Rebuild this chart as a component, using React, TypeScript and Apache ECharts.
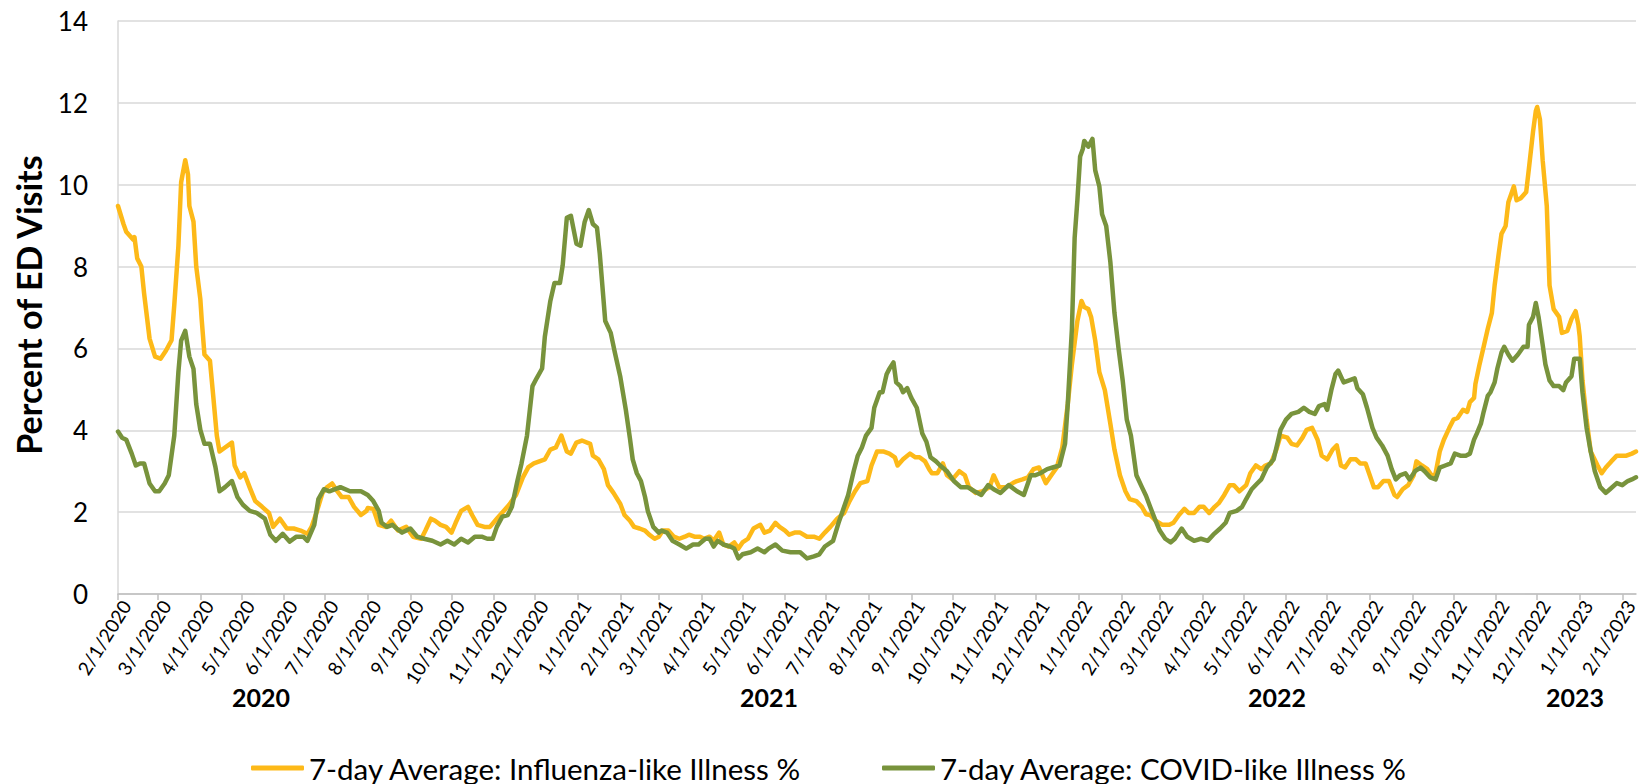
import React, { useEffect, useRef } from "react";
import * as echarts from "echarts";

// ---- Data (month/day, percent) ----
const ILI_2020: [string, number][] = [
  ["2/1", 9.48], ["2/5", 9.04], ["2/7", 8.85], ["2/12", 8.66], ["2/13", 8.72], ["2/15", 8.2], ["2/18", 8.0],
  ["2/20", 7.35], ["2/24", 6.24], ["2/28", 5.8], ["3/3", 5.75], ["3/7", 5.95], ["3/11", 6.2], ["3/13", 7.06],
  ["3/16", 8.5], ["3/18", 10.06], ["3/21", 10.6], ["3/23", 10.25], ["3/24", 9.48], ["3/27", 9.1], ["3/29", 8.0],
  ["4/1", 7.2], ["4/2", 6.7], ["4/4", 5.85], ["4/8", 5.7], ["4/10", 4.98], ["4/13", 3.87], ["4/15", 3.48],
  ["4/19", 3.58], ["4/24", 3.7], ["4/26", 3.14], ["4/30", 2.85], ["5/3", 2.95], ["5/7", 2.6], ["5/11", 2.27],
  ["5/16", 2.13], ["5/21", 1.98], ["5/24", 1.64], ["5/29", 1.84], ["6/3", 1.6], ["6/8", 1.6], ["6/13", 1.55],
  ["6/18", 1.47], ["6/21", 1.64], ["6/25", 2.03], ["6/29", 2.47], ["7/2", 2.6], ["7/6", 2.7], ["7/10", 2.5],
  ["7/13", 2.37], ["7/18", 2.37], ["7/22", 2.13], ["7/27", 1.93], ["7/31", 2.03], ["8/1", 2.1], ["8/5", 2.08],
  ["8/9", 1.69], ["8/14", 1.64], ["8/18", 1.79], ["8/23", 1.55], ["8/29", 1.64], ["9/3", 1.4], ["9/9", 1.35],
  ["9/12", 1.55], ["9/16", 1.84], ["9/19", 1.79], ["9/23", 1.69], ["9/27", 1.64], ["10/1", 1.5], ["10/4", 1.74],
  ["10/8", 2.03], ["10/13", 2.13], ["10/16", 1.93], ["10/20", 1.69], ["10/25", 1.64], ["10/29", 1.64],
  ["11/3", 1.84], ["11/8", 2.03], ["11/12", 2.18], ["11/17", 2.42], ["11/22", 2.85], ["11/26", 3.1],
  ["11/30", 3.19], ["12/4", 3.24], ["12/8", 3.29], ["12/12", 3.53], ["12/16", 3.58], ["12/20", 3.87],
  ["12/24", 3.48], ["12/27", 3.43], ["12/31", 3.7],
];
const ILI_2021: [string, number][] = [
  ["1/4", 3.75], ["1/10", 3.67], ["1/12", 3.38], ["1/16", 3.29], ["1/20", 3.05], ["1/23", 2.66], ["1/27", 2.47],
  ["2/1", 2.2], ["2/4", 1.93], ["2/8", 1.79], ["2/11", 1.64], ["2/15", 1.6], ["2/19", 1.55], ["2/22", 1.45],
  ["2/26", 1.35], ["3/1", 1.4], ["3/4", 1.55], ["3/8", 1.55], ["3/12", 1.4], ["3/16", 1.35], ["3/20", 1.4],
  ["3/23", 1.45], ["3/27", 1.4], ["3/31", 1.4], ["4/3", 1.35], ["4/7", 1.4], ["4/10", 1.3], ["4/14", 1.5],
  ["4/17", 1.21], ["4/21", 1.16], ["4/25", 1.26], ["4/28", 1.11], ["5/1", 1.26], ["5/5", 1.35], ["5/9", 1.6],
  ["5/14", 1.69], ["5/17", 1.5], ["5/21", 1.55], ["5/25", 1.74], ["5/28", 1.64], ["6/1", 1.55], ["6/4", 1.45],
  ["6/8", 1.5], ["6/12", 1.5], ["6/17", 1.4], ["6/22", 1.4], ["6/26", 1.35], ["6/30", 1.5], ["7/4", 1.64],
  ["7/9", 1.84], ["7/14", 1.98], ["7/18", 2.27], ["7/22", 2.51], ["7/26", 2.71], ["7/31", 2.76], ["8/3", 3.14],
  ["8/7", 3.48], ["8/12", 3.48], ["8/16", 3.43], ["8/20", 3.34], ["8/22", 3.14], ["8/26", 3.29], ["8/31", 3.43],
  ["9/4", 3.34], ["9/7", 3.34], ["9/11", 3.24], ["9/14", 3.05], ["9/16", 2.95], ["9/20", 2.95], ["9/24", 3.19],
  ["9/27", 2.9], ["10/1", 2.8], ["10/6", 3.0], ["10/10", 2.9], ["10/13", 2.61], ["10/18", 2.47], ["10/23", 2.51],
  ["10/28", 2.61], ["10/31", 2.9], ["11/4", 2.61], ["11/9", 2.61], ["11/14", 2.71], ["11/17", 2.76],
  ["11/21", 2.8], ["11/25", 2.85], ["11/29", 3.05], ["12/3", 3.09], ["12/8", 2.71], ["12/12", 2.9],
  ["12/16", 3.09], ["12/20", 3.58], ["12/24", 4.64], ["12/27", 5.61], ["12/31", 6.67],
];
const ILI_2022: [string, number][] = [
  ["1/3", 7.16], ["1/5", 7.01], ["1/8", 6.96], ["1/10", 6.77], ["1/13", 6.19], ["1/16", 5.42], ["1/20", 4.98],
  ["1/24", 4.16], ["1/27", 3.53], ["1/31", 2.9], ["2/4", 2.51], ["2/7", 2.32], ["2/12", 2.27], ["2/16", 2.13],
  ["2/19", 1.95], ["2/22", 1.93], ["2/26", 1.79], ["3/3", 1.69], ["3/8", 1.69], ["3/11", 1.74], ["3/15", 1.93],
  ["3/19", 2.08], ["3/22", 1.98], ["3/26", 1.98], ["3/30", 2.13], ["4/2", 2.13], ["4/6", 1.98], ["4/10", 2.13],
  ["4/13", 2.22], ["4/17", 2.42], ["4/21", 2.66], ["4/24", 2.66], ["4/28", 2.51], ["5/3", 2.66], ["5/6", 2.95],
  ["5/10", 3.14], ["5/14", 3.05], ["5/17", 3.14], ["5/21", 3.19], ["5/25", 3.53], ["5/28", 3.87], ["6/2", 3.82],
  ["6/5", 3.67], ["6/9", 3.63], ["6/13", 3.82], ["6/16", 4.01], ["6/20", 4.06], ["6/24", 3.77], ["6/27", 3.38],
  ["7/1", 3.29], ["7/5", 3.53], ["7/8", 3.63], ["7/11", 3.14], ["7/14", 3.09], ["7/18", 3.29], ["7/22", 3.29],
  ["7/25", 3.19], ["7/29", 3.19], ["8/1", 2.9], ["8/4", 2.61], ["8/7", 2.61], ["8/11", 2.76], ["8/15", 2.76],
  ["8/19", 2.42], ["8/21", 2.37], ["8/25", 2.56], ["8/29", 2.66], ["9/2", 2.9], ["9/4", 3.24], ["9/8", 3.14],
  ["9/12", 3.05], ["9/16", 2.85], ["9/18", 2.95], ["9/21", 3.48], ["9/24", 3.77], ["9/28", 4.06], ["10/1", 4.26],
  ["10/4", 4.3], ["10/8", 4.5], ["10/11", 4.45], ["10/13", 4.69], ["10/16", 4.79], ["10/17", 5.13],
  ["10/20", 5.61], ["10/23", 6.04], ["10/26", 6.48], ["10/29", 6.87], ["10/31", 7.54], ["11/3", 8.32],
  ["11/5", 8.8], ["11/8", 8.99], ["11/10", 9.57], ["11/13", 9.86], ["11/14", 9.96], ["11/16", 9.62],
  ["11/19", 9.67], ["11/23", 9.82], ["11/25", 10.4], ["11/28", 11.3], ["11/30", 11.8], ["12/1", 11.9],
  ["12/3", 11.6], ["12/5", 10.6], ["12/8", 9.48], ["12/10", 7.54], ["12/13", 6.96], ["12/17", 6.77],
  ["12/19", 6.38], ["12/23", 6.43], ["12/26", 6.72], ["12/29", 6.91], ["12/31", 6.58],
];
const ILI_2023: [string, number][] = [
  ["1/1", 6.29], ["1/3", 5.22], ["1/6", 4.26], ["1/9", 3.48], ["1/14", 3.14], ["1/17", 2.95], ["1/20", 3.09],
  ["1/24", 3.24], ["1/28", 3.38], ["2/1", 3.38], ["2/4", 3.38], ["2/8", 3.43], ["2/11", 3.48],
];

const CLI_2020: [string, number][] = [
  ["2/1", 3.97], ["2/4", 3.82], ["2/7", 3.77], ["2/11", 3.43], ["2/14", 3.14], ["2/17", 3.19], ["2/20", 3.19],
  ["2/24", 2.7], ["2/28", 2.51], ["3/2", 2.51], ["3/6", 2.7], ["3/9", 2.9], ["3/13", 3.87], ["3/16", 5.42],
  ["3/18", 6.19], ["3/21", 6.43], ["3/24", 5.8], ["3/27", 5.5], ["3/29", 4.64], ["4/1", 4.01], ["4/4", 3.67],
  ["4/8", 3.67], ["4/12", 3.1], ["4/15", 2.51], ["4/19", 2.61], ["4/24", 2.76], ["4/28", 2.37], ["5/2", 2.18],
  ["5/7", 2.03], ["5/12", 1.98], ["5/18", 1.84], ["5/22", 1.45], ["5/26", 1.3], ["5/31", 1.47], ["6/5", 1.28],
  ["6/10", 1.4], ["6/15", 1.4], ["6/18", 1.3], ["6/23", 1.69], ["6/26", 2.32], ["6/30", 2.56], ["7/4", 2.51],
  ["7/12", 2.61], ["7/19", 2.51], ["7/27", 2.51], ["8/1", 2.42], ["8/5", 2.27], ["8/9", 2.03], ["8/11", 1.74],
  ["8/15", 1.64], ["8/19", 1.69], ["8/22", 1.6], ["8/26", 1.5], ["9/1", 1.6], ["9/6", 1.4], ["9/11", 1.35],
  ["9/17", 1.3], ["9/23", 1.21], ["9/28", 1.3], ["10/3", 1.21], ["10/8", 1.35], ["10/13", 1.26], ["10/18", 1.4],
  ["10/23", 1.4], ["10/27", 1.35], ["10/31", 1.35], ["11/3", 1.64], ["11/7", 1.89], ["11/11", 1.93],
  ["11/14", 2.13], ["11/18", 2.76], ["11/21", 3.19], ["11/25", 3.87], ["11/29", 5.08], ["12/2", 5.27],
  ["12/6", 5.51], ["12/8", 6.29], ["12/12", 7.16], ["12/15", 7.6], ["12/19", 7.6], ["12/21", 8.03],
  ["12/24", 9.19], ["12/27", 9.24], ["12/31", 8.56],
];
const CLI_2021: [string, number][] = [
  ["1/3", 8.51], ["1/6", 9.09], ["1/9", 9.38], ["1/12", 9.04], ["1/15", 8.95], ["1/17", 8.32], ["1/21", 6.67],
  ["1/25", 6.38], ["1/28", 5.9], ["2/1", 5.3], ["2/5", 4.5], ["2/8", 3.8], ["2/10", 3.29], ["2/13", 2.95],
  ["2/16", 2.76], ["2/19", 2.37], ["2/21", 2.03], ["2/25", 1.64], ["3/1", 1.5], ["3/3", 1.55], ["3/7", 1.5],
  ["3/11", 1.3], ["3/16", 1.21], ["3/21", 1.11], ["3/26", 1.21], ["3/30", 1.21], ["4/4", 1.35], ["4/7", 1.35],
  ["4/10", 1.16], ["4/13", 1.3], ["4/17", 1.21], ["4/22", 1.16], ["4/25", 1.11], ["4/28", 0.87], ["5/1", 0.97],
  ["5/7", 1.02], ["5/12", 1.11], ["5/17", 1.02], ["5/20", 1.11], ["5/25", 1.21], ["5/30", 1.06], ["6/5", 1.02],
  ["6/12", 1.02], ["6/17", 0.87], ["6/22", 0.92], ["6/26", 0.97], ["6/30", 1.16], ["7/6", 1.3], ["7/10", 1.74],
  ["7/13", 2.03], ["7/17", 2.42], ["7/21", 3.0], ["7/24", 3.38], ["7/27", 3.58], ["7/30", 3.87], ["8/3", 4.06],
  ["8/5", 4.55], ["8/9", 4.93], ["8/11", 4.93], ["8/14", 5.37], ["8/16", 5.5], ["8/19", 5.66], ["8/21", 5.17],
  ["8/24", 5.08], ["8/26", 4.93], ["8/29", 5.03], ["9/1", 4.79], ["9/5", 4.55], ["9/9", 3.92], ["9/12", 3.72],
  ["9/15", 3.34], ["9/19", 3.24], ["9/22", 3.14], ["9/27", 3.0], ["10/2", 2.76], ["10/7", 2.61], ["10/12", 2.61],
  ["10/17", 2.51], ["10/22", 2.42], ["10/27", 2.66], ["10/31", 2.56], ["11/5", 2.47], ["11/11", 2.66],
  ["11/17", 2.51], ["11/22", 2.42], ["11/27", 2.9], ["11/30", 2.9], ["12/4", 2.95], ["12/9", 3.05],
  ["12/13", 3.09], ["12/18", 3.14], ["12/22", 3.67], ["12/24", 4.64], ["12/27", 6.48], ["12/29", 8.7],
  ["12/31", 9.62],
];
const CLI_2022: [string, number][] = [
  ["1/2", 10.69], ["1/4", 10.88], ["1/5", 11.07], ["1/8", 10.93], ["1/11", 11.12], ["1/13", 10.35],
  ["1/16", 9.96], ["1/18", 9.28], ["1/21", 8.99], ["1/24", 8.12], ["1/27", 6.87], ["1/30", 6.0], ["2/2", 5.22],
  ["2/5", 4.26], ["2/8", 3.87], ["2/12", 2.9], ["2/16", 2.61], ["2/19", 2.4], ["2/22", 2.13], ["2/26", 1.79],
  ["3/1", 1.55], ["3/5", 1.35], ["3/9", 1.26], ["3/12", 1.35], ["3/17", 1.6], ["3/21", 1.4], ["3/26", 1.3],
  ["3/31", 1.35], ["4/5", 1.3], ["4/9", 1.45], ["4/14", 1.6], ["4/18", 1.74], ["4/21", 1.98], ["4/26", 2.03],
  ["4/30", 2.13], ["5/3", 2.32], ["5/7", 2.56], ["5/11", 2.7], ["5/14", 2.8], ["5/18", 3.09], ["5/23", 3.29],
  ["5/26", 3.72], ["5/28", 4.01], ["6/1", 4.26], ["6/5", 4.4], ["6/10", 4.45], ["6/14", 4.55], ["6/18", 4.45],
  ["6/22", 4.4], ["6/25", 4.59], ["6/29", 4.64], ["7/1", 4.5], ["7/4", 4.98], ["7/7", 5.37], ["7/9", 5.46],
  ["7/13", 5.17], ["7/17", 5.22], ["7/21", 5.27], ["7/23", 5.03], ["7/27", 4.88], ["7/30", 4.55], ["8/3", 4.06],
  ["8/6", 3.82], ["8/10", 3.63], ["8/14", 3.38], ["8/17", 3.05], ["8/20", 2.8], ["8/23", 2.9], ["8/27", 2.95],
  ["8/30", 2.8], ["9/3", 3.0], ["9/7", 3.09], ["9/10", 3.0], ["9/14", 2.85], ["9/18", 2.8], ["9/21", 3.09],
  ["9/25", 3.14], ["9/29", 3.19], ["10/2", 3.43], ["10/6", 3.38], ["10/10", 3.38], ["10/13", 3.43],
  ["10/16", 3.77], ["10/18", 3.92], ["10/21", 4.16], ["10/23", 4.45], ["10/26", 4.84], ["10/28", 4.93],
  ["10/31", 5.17], ["11/2", 5.51], ["11/5", 5.9], ["11/7", 6.04], ["11/10", 5.85], ["11/13", 5.7],
  ["11/17", 5.85], ["11/21", 6.04], ["11/24", 6.04], ["11/25", 6.58], ["11/28", 6.77], ["11/30", 7.11],
  ["12/2", 6.77], ["12/5", 6.09], ["12/7", 5.61], ["12/10", 5.22], ["12/13", 5.08], ["12/17", 5.08],
  ["12/20", 4.98], ["12/22", 5.17], ["12/26", 5.32], ["12/28", 5.75],
];
const CLI_2023: [string, number][] = [
  ["1/1", 5.75], ["1/3", 4.93], ["1/6", 4.06], ["1/9", 3.48], ["1/12", 3.0], ["1/16", 2.61], ["1/20", 2.47],
  ["1/23", 2.56], ["1/28", 2.71], ["2/1", 2.66], ["2/5", 2.76], ["2/8", 2.8], ["2/11", 2.85],
];

const SERIES_NAMES = [
  "7-day Average: Influenza-like Illness %",
  "7-day Average: COVID-like Illness %",
];
const YEAR_LABELS = ["2020", "2021", "2022", "2023"];
const Y_MIN = 0;
const Y_MAX = 14;
const Y_STEP = 2;
const FIRST_DAY = [2020, 2, 1];
const LAST_DAY = [2023, 2, 11];

// ---- helpers ----
function withYear(list: [string, number][], year: number) {
  return list.map(([md, v]) => [`${md}/${year}`, v]);
}
function buildDays(): string[] {
  const out: string[] = [];
  const start = Date.UTC(FIRST_DAY[0], FIRST_DAY[1] - 1, FIRST_DAY[2]);
  const end = Date.UTC(LAST_DAY[0], LAST_DAY[1] - 1, LAST_DAY[2]);
  for (let t = start; t <= end; t += 86400000) {
    const d = new Date(t);
    out.push(`${d.getUTCMonth() + 1}/${d.getUTCDate()}/${d.getUTCFullYear()}`);
  }
  return out;
}

const FONT = "Lato, 'Open Sans', sans-serif";
const YELLOW = "#FDB918";
const GREEN = "#78933C";

export default function App() {
  const ref = useRef<HTMLDivElement>(null);

  useEffect(() => {
    document.body.style.margin = "0";
    if (!ref.current) return;
    const chart = echarts.init(ref.current, undefined, { renderer: "svg" });
    const days = buildDays();
    const ili = [
      ...withYear(ILI_2020, 2020),
      ...withYear(ILI_2021, 2021),
      ...withYear(ILI_2022, 2022),
      ...withYear(ILI_2023, 2023),
    ];
    const cli = [
      ...withYear(CLI_2020, 2020),
      ...withYear(CLI_2021, 2021),
      ...withYear(CLI_2022, 2022),
      ...withYear(CLI_2023, 2023),
    ];
    const isFirst = (_i: number, v: string) => v.split("/")[1] === "1";
    const yearX = [261, 769, 1277, 1575];

    const legendBase = {
      top: 753,
      padding: 0,
      itemWidth: 53,
      itemHeight: 5,
      icon: "roundRect",
      textStyle: { fontSize: 29.5, fontFamily: FONT, color: "#000" },
      selectedMode: false,
    };

    chart.setOption({
      animation: false,
      backgroundColor: "#ffffff",
      grid: { left: 118, right: 4, top: 21, bottom: 190, containLabel: false },
      xAxis: {
        type: "category",
        data: days,
        boundaryGap: false,
        axisLine: { lineStyle: { color: "#BFBFBF", width: 1.5 } },
        axisTick: { interval: isFirst, length: 6, lineStyle: { color: "#BFBFBF", width: 1.5 } },
        axisLabel: {
          interval: isFirst,
          rotate: 58,
          fontSize: 19,
          fontFamily: FONT,
          color: "#000",
          margin: 3,
          verticalAlign: "top",
        },
        splitLine: { show: false },
      },
      yAxis: {
        type: "value",
        min: Y_MIN,
        max: Y_MAX,
        interval: Y_STEP,
        axisLine: { show: true, lineStyle: { color: "#D9D9D9", width: 1.5 } },
        axisTick: { show: false },
        axisLabel: { fontSize: 26, fontFamily: FONT, color: "#000", margin: 30 },
        splitLine: { lineStyle: { color: "#D9D9D9", width: 1.5 } },
      },
      legend: [
        { ...legendBase, left: 251, data: [SERIES_NAMES[0]] },
        { ...legendBase, left: 882, data: [SERIES_NAMES[1]] },
      ],
      series: [
        {
          name: SERIES_NAMES[0],
          type: "line",
          data: ili,
          showSymbol: false,
          symbol: "none",
          color: YELLOW,
          lineStyle: { color: YELLOW, width: 4.5, cap: "round", join: "round" },
        },
        {
          name: SERIES_NAMES[1],
          type: "line",
          data: cli,
          showSymbol: false,
          symbol: "none",
          color: GREEN,
          lineStyle: { color: GREEN, width: 4.5, cap: "round", join: "round" },
        },
      ],
      graphic: [
        {
          type: "text",
          x: 28,
          y: 305,
          rotation: Math.PI / 2,
          style: {
            text: "Percent of ED Visits",
            fontSize: 34,
            fontWeight: "bold",
            fontFamily: FONT,
            fill: "#000",
            textAlign: "center",
            textVerticalAlign: "middle",
          },
        },
        ...YEAR_LABELS.map((t, i) => ({
          type: "text",
          x: yearX[i],
          y: 697,
          style: {
            text: t,
            fontSize: 25,
            fontWeight: "bold",
            fontFamily: FONT,
            fill: "#000",
            textAlign: "center",
            textVerticalAlign: "middle",
          },
        })),
      ],
    });
    return () => chart.dispose();
  }, []);

  return (
    <div
      ref={ref}
      style={{ position: "absolute", left: 0, top: 0, width: 1640, height: 784 }}
    />
  );
}
